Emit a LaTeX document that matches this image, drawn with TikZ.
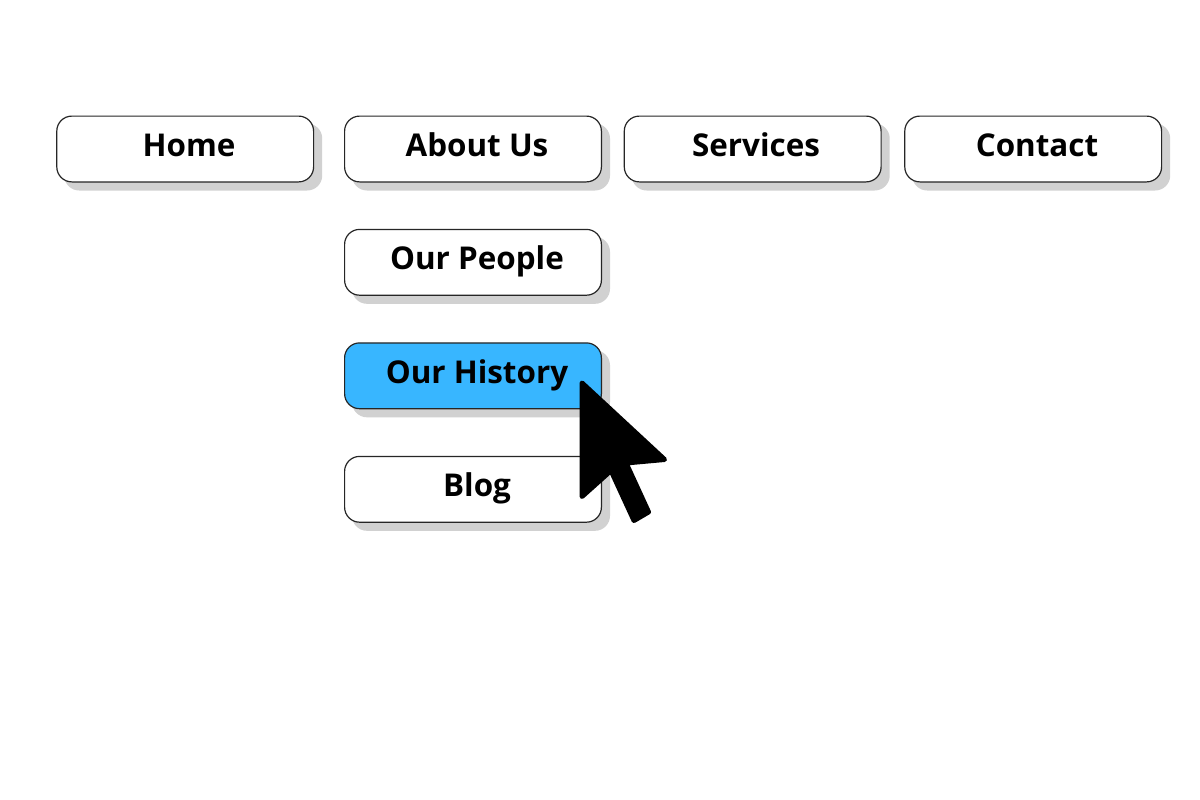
\documentclass[tikz,border=0pt]{standalone}
\usepackage{fontspec}
\setmainfont{Open Sans}
\tikzset{
  btn/.style={draw=black!85!white,line width=1.2pt,rounded corners=15pt,minimum width=256.8pt,minimum height=65.8pt,inner sep=0pt,fill=white},
  btnshadow/.style={rounded corners=15pt,minimum width=258pt,minimum height=67pt,inner sep=0pt,fill=black!18},
  hot/.style={fill=hotblue},
  lbl/.style={font=\fontsize{31.4}{38}\selectfont\bfseries,text=black,inner sep=0pt,anchor=base},
  pointer/.style={fill=black,draw=black,line width=5pt,line join=round}
}
\definecolor{hotblue}{HTML}{38B6FF}
\newcommand{\menubtn}[6]{%
  \node[btnshadow] (#1s) at (#2+8,#3+8) {};
  \node[btn,#6] (#1) at (#2,#3) {};
  \node[lbl] (#1t) at (#4,#3+7.5) {#5};
}
\begin{document}
\begin{tikzpicture}[x=1pt,y=-1pt]
\useasboundingbox (0,0) rectangle (1200,800);
\fill[white] (0,0) rectangle (1200,800);
\menubtn{home}{185.2}{149}{189}{Home}{}
\menubtn{about}{473}{149}{477}{About Us}{}
\menubtn{serv}{752.7}{149}{756}{Services}{}
\menubtn{cont}{1033.2}{149}{1037}{Contact}{}
\menubtn{people}{473}{262.3}{477}{Our People}{}
\menubtn{hist}{473}{375.8}{477}{Our History}{hot}
\menubtn{blog}{473}{489.3}{477}{Blog}{}
\draw[pointer] (582,383) -- (664.5,459.5) -- (626,463) -- (648.5,512) -- (634,520.5) -- (611,470.5) -- (582,496.5) -- cycle;
\end{tikzpicture}
\end{document}
